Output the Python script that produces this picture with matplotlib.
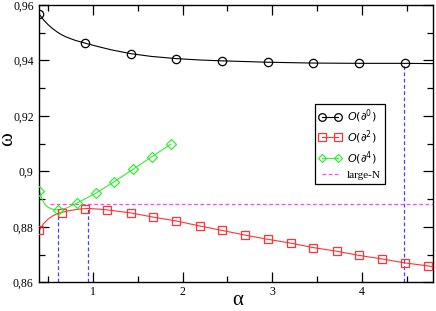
import matplotlib
matplotlib.use("Agg")
import matplotlib.pyplot as plt
from matplotlib.ticker import MultipleLocator, FuncFormatter

# ---- data ----
# O(d^0): markers
x0_mark = [0.40, 0.91, 1.42, 1.93, 2.44, 2.95, 3.46, 3.97, 4.48]
y0_mark = [0.9566, 0.9462, 0.9424, 0.9406, 0.9398, 0.9393, 0.9390, 0.9389, 0.9389]
# O(d^0): curve
x0_line = [0.40, 0.45, 0.50, 0.55, 0.60, 0.65, 0.70, 0.80, 0.91, 1.05, 1.20, 1.42, 1.65, 1.93, 2.20, 2.44, 2.95, 3.46, 3.97, 4.48, 4.80]
y0_line = [0.9566, 0.9545, 0.9528, 0.9514, 0.9502, 0.9492, 0.9484, 0.9472, 0.9462, 0.9450, 0.9438, 0.9424, 0.9414, 0.9406, 0.9401, 0.9398, 0.9393, 0.9390, 0.9389, 0.9389, 0.9388]

# O(d^2): markers
x2_mark = [0.40, 0.65, 0.91, 1.16, 1.42, 1.67, 1.93, 2.19, 2.44, 2.70, 2.95, 3.21, 3.46, 3.72, 3.97, 4.23, 4.48, 4.74]
y2_mark = [0.8788, 0.8851, 0.8864, 0.8861, 0.8850, 0.8835, 0.8821, 0.8803, 0.8787, 0.8770, 0.8755, 0.8741, 0.8725, 0.8712, 0.8697, 0.8684, 0.8670, 0.8659]
# O(d^2): curve
x2_line = [0.40, 0.45, 0.50, 0.55, 0.60, 0.65, 0.75, 0.85, 0.95, 1.05, 1.16, 1.42, 1.67, 1.93, 2.19, 2.44, 2.70, 2.95, 3.21, 3.46, 3.72, 3.97, 4.23, 4.48, 4.74, 4.80]
y2_line = [0.8788, 0.8812, 0.8828, 0.8839, 0.8847, 0.8852, 0.8859, 0.8864, 0.8866, 0.8864, 0.8861, 0.8850, 0.8835, 0.8821, 0.8803, 0.8787, 0.8770, 0.8755, 0.8741, 0.8725, 0.8712, 0.8697, 0.8684, 0.8670, 0.8659, 0.8656]

# O(d^4): markers
x4_mark = [0.40, 0.61, 0.82, 1.03, 1.24, 1.45, 1.66, 1.87]
y4_mark = [0.8930, 0.8861, 0.8885, 0.8921, 0.8963, 0.9008, 0.9053, 0.9098]
# O(d^4): curve
x4_line = [0.40, 0.43, 0.46, 0.50, 0.55, 0.61, 0.70, 0.82, 1.03, 1.24, 1.45, 1.66, 1.87]
y4_line = [0.8930, 0.8900, 0.8882, 0.8870, 0.8863, 0.8861, 0.8867, 0.8885, 0.8921, 0.8963, 0.9008, 0.9053, 0.9098]

# large-N
largeN_x = [0.52, 4.80]
largeN_y = [0.8881, 0.8881]

# vertical guide lines: (x, top y)
vlines_x = [0.605, 0.945, 4.47]
vlines_top = [0.8862, 0.8866, 0.9389]

xlim = (0.4, 4.8)
ylim = (0.86, 0.96)

labels = [r'$O(\partial^0)$', r'$O(\partial^2)$', r'$O(\partial^4)$', 'large-N']

# ---- plot ----
fig = plt.figure(figsize=(4.36, 3.11), dpi=100)
ax = fig.add_axes([0.090, 0.0923, 0.904, 0.8923])

red = '#ff3333'
green = '#33ee33'
blue = '#4444ff'
mag = '#ff44ff'

for xv, yt in zip(vlines_x, vlines_top):
    ax.plot([xv, xv], [ylim[0], yt], color=blue, lw=0.9, ls=(0, (3, 2)), zorder=1)

ax.plot(largeN_x, largeN_y, color=mag, lw=0.9, ls=(0, (3, 2)), zorder=1)

ax.plot(x0_line, y0_line, color='black', lw=0.8, zorder=2)
ax.plot(x0_mark, y0_mark, ls='none', marker='o', ms=6, mfc='none', mec='black', mew=0.9, zorder=3)
ax.plot(x2_line, y2_line, color=red, lw=0.8, zorder=2)
ax.plot(x2_mark, y2_mark, ls='none', marker='s', ms=6, mfc='none', mec=red, mew=0.9, zorder=3)
ax.plot(x4_line, y4_line, color=green, lw=0.8, zorder=2)
ax.plot(x4_mark, y4_mark, ls='none', marker='D', ms=5, mfc='none', mec=green, mew=0.9, zorder=3)

# legend proxies
h0, = ax.plot([], [], color='black', lw=0.8, marker='o', ms=5.5, mfc='none', mew=0.9)
h2, = ax.plot([], [], color=red, lw=0.8, marker='s', ms=5.5, mfc='none', mew=0.9)
h4, = ax.plot([], [], color=green, lw=0.8, marker='D', ms=4.5, mfc='none', mew=0.9)
hN, = ax.plot([], [], color=mag, lw=0.9, ls=(0, (3, 2)))
leg = ax.legend([h0, h2, h4, hN], labels, loc='upper left', bbox_to_anchor=(0.70, 0.643),
                numpoints=2, fancybox=False, framealpha=1, edgecolor='black',
                prop={'family': 'Liberation Serif', 'size': 8}, handlelength=2.0,
                borderpad=0.35, labelspacing=0.3, handletextpad=0.5, borderaxespad=0)
leg.get_frame().set_linewidth(0.9)

ax.set_xlim(*xlim)
ax.set_ylim(*ylim)
ax.xaxis.set_major_locator(MultipleLocator(1))
ax.xaxis.set_minor_locator(MultipleLocator(0.5))
ax.yaxis.set_major_locator(MultipleLocator(0.02))
ax.yaxis.set_minor_locator(MultipleLocator(0.01))
ax.yaxis.set_major_formatter(FuncFormatter(lambda v, p: ('%.2f' % v).replace('.', ',').replace(',90', ',9')))
ax.tick_params(which='both', direction='in', top=True, right=True, width=0.9)
ax.tick_params(which='major', length=7, labelsize=8.5)
ax.tick_params(axis='x', which='major', pad=3)
ax.tick_params(axis='y', which='major', pad=4)
ax.tick_params(which='minor', length=4)
for lab in ax.get_xticklabels() + ax.get_yticklabels():
    lab.set_family('Liberation Serif')
for s in ax.spines.values():
    s.set_linewidth(1.0)

ax.set_xlabel('α', family='Liberation Serif', fontsize=15, va='center')
ax.set_ylabel('ω', family='Liberation Serif', fontsize=15, va='center')
ax.xaxis.set_label_coords(0.504, -0.066)
ax.yaxis.set_label_coords(-0.079, 0.516)

fig.savefig('out.png', dpi=100)
